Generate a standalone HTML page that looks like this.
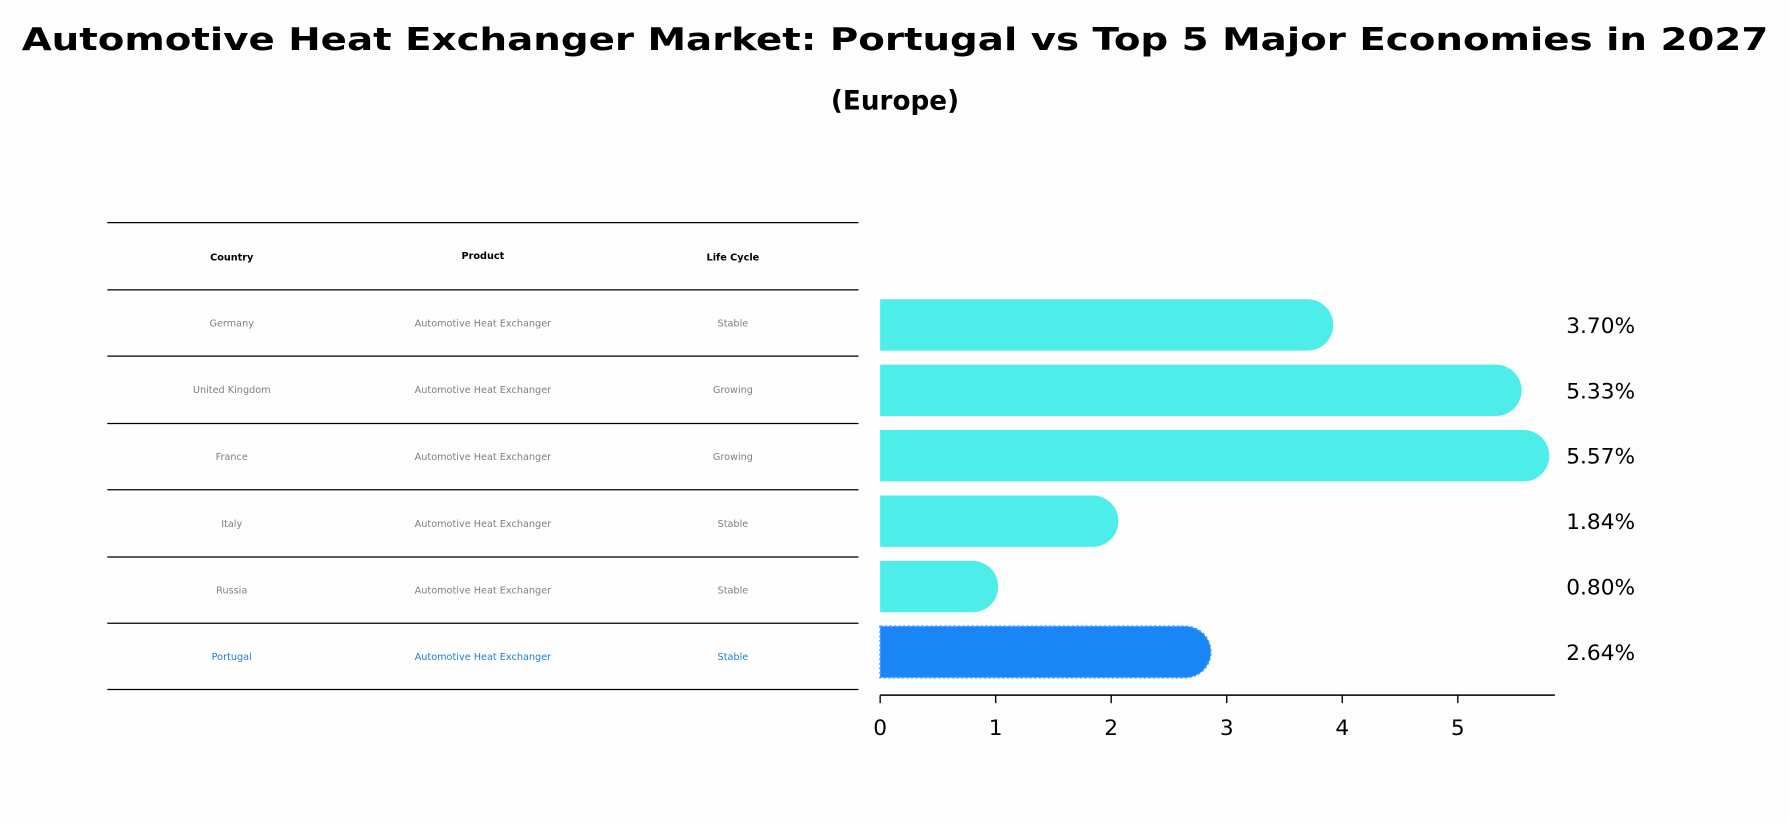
<!DOCTYPE html>
<html><head><meta charset="utf-8"><style>
html,body{margin:0;padding:0;background:#fdfdfd;}
svg{display:block;font-family:"DejaVu Sans","Liberation Sans",sans-serif;}
</style></head><body>
<svg id="chart" width="1790" height="823" viewBox="0 0 1568 721" preserveAspectRatio="none" xmlns="http://www.w3.org/2000/svg">
<rect x="0" y="0" width="1568" height="721" fill="#fdfdfd"/>
<text x="784" y="44" text-anchor="middle" font-size="27" font-weight="bold" textLength="1530" lengthAdjust="spacingAndGlyphs">Automotive Heat Exchanger Market: Portugal vs Top 5 Major Economies in 2027</text>
<text x="784" y="96" text-anchor="middle" font-size="23" font-weight="bold">(Europe)</text>
<g id="table"></g>
<g id="bars"></g>
</svg>
<script>
const countries = ["Germany","United Kingdom","France","Italy","Russia","Portugal"];
const products = ["Automotive Heat Exchanger","Automotive Heat Exchanger","Automotive Heat Exchanger","Automotive Heat Exchanger","Automotive Heat Exchanger","Automotive Heat Exchanger"];
const lifeCycles = ["Stable","Growing","Growing","Stable","Stable","Stable"];
const values = [3.70,5.33,5.57,1.84,0.80,2.64];
const valueLabels = ["3.70%","5.33%","5.57%","1.84%","0.80%","2.64%"];
const xTicks = [0,1,2,3,4,5];

const NS = "http://www.w3.org/2000/svg";
function mk(tag, attrs, parent){const e=document.createElementNS(NS,tag);for(const k in attrs)e.setAttribute(k,attrs[k]);parent.appendChild(e);return e;}

// table
const table = document.getElementById('table');
const lineYs = [195,254,312,371,429,488,546,604];
lineYs.forEach((y,i)=>{
  const l = mk('line',{x1:94,x2:752,y1:y,y2:y,stroke:'#000','stroke-width':1.1},table);
  
  
});
const colX = [203,423,642];
const headers = ["Country","Product","Life Cycle"];
headers.forEach((h,i)=>{
  const t = mk('text',{x:colX[i],y:i==1?227:228,'text-anchor':'middle','font-size':8.5,'font-weight':'bold',fill:'#000'},table);
  t.textContent=h;
  
  
});
countries.forEach((c,r)=>{
  const cy = (lineYs[r+1]+lineYs[r+2])/2 + 3;
  const col = c==="Portugal" ? '#1f7fd0' : '#808080';
  [c, products[r], lifeCycles[r]].forEach((v,i)=>{
    const t = mk('text',{x:colX[i],y:cy,'text-anchor':'middle','font-size':8.5,fill:col},table);
    t.textContent=v;
    
    
  });
});

// bar chart
const bars = document.getElementById('bars');
const x0 = 771, unit = 101.2;
function xs(v){return x0 + v*unit;}
const rowTop = 256, rowH = 57.3, barH = 45;
function yc(i){return rowTop + rowH*i + rowH/2;}
values.forEach((v,i)=>{
  const isP = countries[i]==="Portugal";
  const r = barH/2;
  const xe = xs(v);
  const y = yc(i)-r;
  const d = `M${x0},${y} H${xe} A${r},${r} 0 0 1 ${xe},${y+barH} H${x0} Z`;
  const p = mk('path',{d:d,fill:isP?'#1a86f5':'#4deeea'},bars);
  if(isP){p.setAttribute('stroke','#4a9cff');p.setAttribute('stroke-width','1.5');p.setAttribute('stroke-dasharray','2 2');}
  
  
  const t = mk('text',{x:1372,y:yc(i)+7,'font-size':19,fill:'#000'},bars);
  t.textContent = valueLabels[i];
  
  
});
for(let i=0;i<=values.length;i++){
  const ty = rowTop + rowH*i - 28.6 + 0;
}
const ax = mk('line',{x1:x0,x2:1362,y1:609,y2:609,stroke:'#000','stroke-width':1.3},bars);


xTicks.forEach(v=>{
  const tk = mk('line',{x1:xs(v),x2:xs(v),y1:609,y2:616,stroke:'#000','stroke-width':1.2},bars);
  
  
  const t = mk('text',{x:xs(v),y:644,'text-anchor':'middle','font-size':19,fill:'#000'},bars);
  t.textContent = String(v);
  
  
});
</script>
</body></html>
